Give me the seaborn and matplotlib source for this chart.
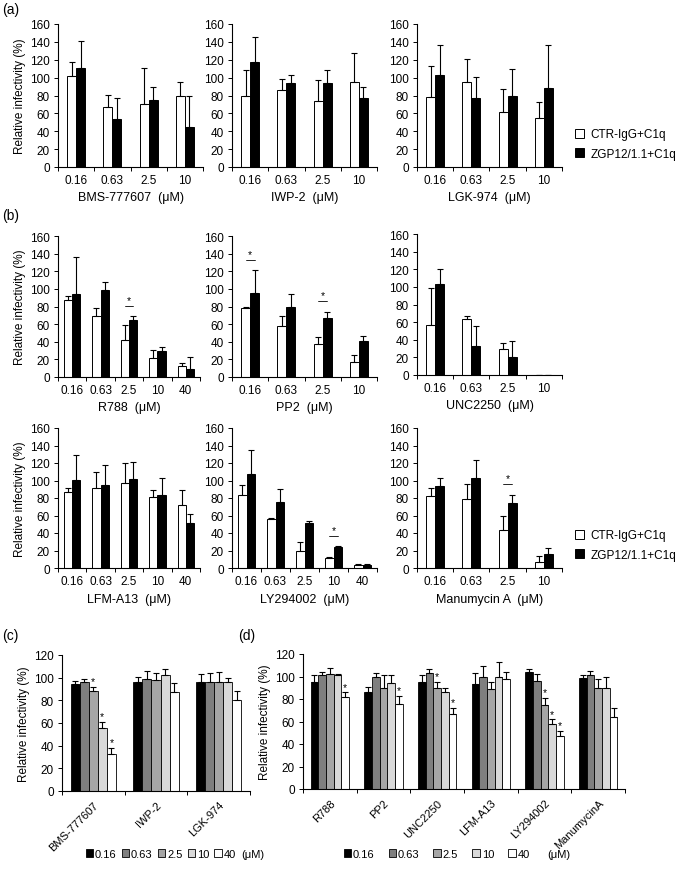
import numpy as np
import pandas as pd
import matplotlib.pyplot as plt
from matplotlib.patches import Patch
import seaborn as sns

sns.set_theme(style="ticks")
plt.rcParams['font.family'] = ['Liberation Sans', 'DejaVu Sans']
plt.rcParams['font.size'] = 8
plt.rcParams['axes.edgecolor'] = 'black'
plt.rcParams['axes.linewidth'] = 0.8
plt.rcParams['xtick.color'] = 'black'
plt.rcParams['ytick.color'] = 'black'
plt.rcParams['axes.labelcolor'] = 'black'
plt.rcParams['text.color'] = 'black'

doses4 = ["0.16", "0.63", "2.5", "10"]
doses5 = ["0.16", "0.63", "2.5", "10", "40"]
conds = ["CTR-IgG+C1q", "ZGP12/1.1+C1q"]

# (a) values: mean and upper SD for each condition
bms_ctr, bms_ctr_err = [102, 67, 70, 80], [16, 14, 41, 15]
bms_zgp, bms_zgp_err = [111, 54, 75, 45], [30, 23, 15, 34]
iwp_ctr, iwp_ctr_err = [80, 86, 74, 95], [28, 12, 23, 33]
iwp_zgp, iwp_zgp_err = [117, 94, 94, 77], [28, 9, 15, 12]
lgk_ctr, lgk_ctr_err = [78, 95, 61, 55], [35, 26, 26, 18]
lgk_zgp, lgk_zgp_err = [103, 77, 80, 88], [33, 24, 30, 49]

# (b)
r788_ctr, r788_ctr_err = [87, 69, 42, 21, 12], [5, 9, 17, 10, 4]
r788_zgp, r788_zgp_err = [94, 99, 65, 29, 9], [42, 9, 4, 5, 14]
pp2_ctr, pp2_ctr_err = [78, 58, 37, 17], [2, 11, 8, 8]
pp2_zgp, pp2_zgp_err = [95, 80, 67, 41], [26, 14, 7, 6]
unc_ctr, unc_ctr_err = [57, 63, 30, 0], [42, 4, 6, 0]
unc_zgp, unc_zgp_err = [103, 33, 20, 0], [17, 23, 19, 0]
lfm_ctr, lfm_ctr_err = [87, 91, 97, 81, 72], [5, 19, 23, 8, 17]
lfm_zgp, lfm_zgp_err = [101, 95, 102, 84, 52], [28, 23, 19, 19, 10]
ly_ctr, ly_ctr_err = [84, 56, 20, 11, 4], [11, 1, 10, 2, 0.5]
ly_zgp, ly_zgp_err = [107, 76, 51, 24, 4], [28, 14, 3, 1, 0.5]
man_ctr, man_ctr_err = [82, 79, 43, 7], [9, 17, 17, 7]
man_zgp, man_zgp_err = [94, 103, 74, 16], [9, 21, 10, 7]

# (c) cytotoxicity, Wnt inhibitors
c_drugs = ["BMS-777607", "IWP-2", "LGK-974"]
c_vals = [[94, 96, 88, 56, 33], [96, 99, 98, 102, 87], [96, 96, 96, 96, 80]]
c_errs = [[3, 3, 4, 5, 5], [5, 7, 6, 6, 8], [7, 8, 9, 4, 8]]
c_sig = [[2, 3, 4], [], []]

# (d) cytotoxicity, kinase inhibitors
d_drugs = ["R788", "PP2", "UNC2250", "LFM-A13", "LY294002", "ManumycinA"]
d_vals = [[95, 101, 102, 101, 82], [86, 100, 90, 94, 76], [95, 103, 90, 86, 67],
          [93, 100, 89, 100, 98], [104, 96, 75, 58, 47], [99, 101, 90, 90, 64]]
d_errs = [[6, 3, 6, 1, 4], [5, 3, 11, 7, 7], [6, 4, 5, 4, 5],
          [10, 9, 6, 13, 6], [3, 6, 6, 4, 5], [2, 4, 8, 10, 8]]
d_sig = [[4], [4], [2, 4], [], [2, 3, 4], []]

dose_colors = ["black", "#7f7f7f", "#a6a6a6", "#d9d9d9", "white"]

W, H = 678, 870
fig = plt.figure(figsize=(W / 100, H / 100), dpi=100)


def add_ax(x0, x1, ytop, ybot):
    return fig.add_axes([x0 / W, 1 - ybot / H, (x1 - x0) / W, (ybot - ytop) / H])


def style_axis(ax, labels, ymax, rot=False):
    n = len(labels)
    ax.set_xlim(-0.5, n - 0.5)
    ax.set_ylim(0, ymax)
    ax.set_yticks(np.arange(0, ymax + 1, 20))
    ax.set_xticks(np.arange(n))
    if rot:
        ax.set_xticklabels(labels, rotation=45, ha='right', rotation_mode='anchor')
    else:
        ax.set_xticklabels(labels)
    ax.set_xticks(np.arange(n + 1) - 0.5, minor=True)
    ax.tick_params(axis='x', which='major', length=0, pad=6 if rot else 5,
                   labelsize=8 if rot else 8.5)
    ax.tick_params(axis='x', which='minor', length=3, width=0.7)
    ax.tick_params(axis='y', length=3, width=0.7, pad=3, labelsize=8.5)
    ax.set_ylabel("")
    ax.set_xlabel("")
    sns.despine(ax=ax)


def draw_pair(ax, drug, doses, ctr, ctr_err, zgp, zgp_err, sig=(), ylab=False):
    df = pd.DataFrame({
        "dose": doses * 2,
        "cond": [conds[0]] * len(doses) + [conds[1]] * len(doses),
        "value": ctr + zgp,
    })
    sns.barplot(data=df, x="dose", y="value", hue="cond", order=doses, hue_order=conds,
                palette={conds[0]: "white", conds[1]: "black"}, edgecolor="black",
                linewidth=0.7, width=0.5 if len(doses) == 4 else 0.58, saturation=1,
                errorbar=None, legend=False, ax=ax)
    bars = list(ax.containers)
    centers = []
    for cont, err in zip(bars, [ctr_err, zgp_err]):
        xs = [p.get_x() + p.get_width() / 2 for p in cont.patches]
        ys = [p.get_height() for p in cont.patches]
        centers.append(xs)
        ax.errorbar(xs, ys, yerr=[np.zeros(len(err)), err], fmt='none', ecolor='black',
                    elinewidth=0.8, capsize=2.5, capthick=0.8)
    # significance bracket
    for i in sig:
        h = max(ctr[i] + ctr_err[i], zgp[i] + zgp_err[i]) + 12
        ax.plot([centers[0][i], centers[1][i]], [h, h], color='black', lw=0.6)
        ax.text((centers[0][i] + centers[1][i]) / 2, h + 1, "*", ha='center', va='bottom', fontsize=7.5)
    style_axis(ax, doses, 160)
    ax.set_xlabel(f"{drug}  (μM)", fontsize=9, labelpad=4)
    if ylab:
        ax.set_ylabel("Relative infectivity (%)", fontsize=8.5, labelpad=3)


def draw_dose(ax, drugs, vals, errs, sig):
    rows = []
    for d, v in zip(drugs, vals):
        for dose, val in zip(doses5, v):
            rows.append({"drug": d, "dose": dose, "value": val})
    df = pd.DataFrame(rows)
    sns.barplot(data=df, x="drug", y="value", hue="dose", order=drugs, hue_order=doses5,
                palette=dose_colors, edgecolor="black", linewidth=0.6, width=0.72,
                saturation=1, errorbar=None, legend=False, ax=ax)
    bars = list(ax.containers)
    for k, cont in enumerate(bars):
        xs = [p.get_x() + p.get_width() / 2 for p in cont.patches]
        ys = [p.get_height() for p in cont.patches]
        e = [errs[g][k] for g in range(len(drugs))]
        ax.errorbar(xs, ys, yerr=[np.zeros(len(e)), e], fmt='none', ecolor='black',
                    elinewidth=0.8, capsize=2, capthick=0.8)
        for g in range(len(drugs)):
            if k in sig[g]:
                ax.text(xs[g], ys[g] + e[g] + 0.5, "*", ha='center', va='bottom', fontsize=7.5)
    style_axis(ax, drugs, 120, rot=True)
    ax.set_ylabel("Relative infectivity (%)", fontsize=8.5, labelpad=3)


cols4 = [(58, 203), (232, 377), (417, 562)]

# (a)
ax = add_ax(*cols4[0], 25, 168)
draw_pair(ax, "BMS-777607", doses4, bms_ctr, bms_ctr_err, bms_zgp, bms_zgp_err, ylab=True)
ax = add_ax(*cols4[1], 25, 168)
draw_pair(ax, "IWP-2", doses4, iwp_ctr, iwp_ctr_err, iwp_zgp, iwp_zgp_err)
ax = add_ax(*cols4[2], 25, 168)
draw_pair(ax, "LGK-974", doses4, lgk_ctr, lgk_ctr_err, lgk_zgp, lgk_zgp_err)

# (b) top row
ax = add_ax(58, 200, 237, 378)
draw_pair(ax, "R788", doses5, r788_ctr, r788_ctr_err, r788_zgp, r788_zgp_err, sig=[2], ylab=True)
ax = add_ax(*cols4[1], 237, 378)
draw_pair(ax, "PP2", doses4, pp2_ctr, pp2_ctr_err, pp2_zgp, pp2_zgp_err, sig=[0, 2])
ax = add_ax(*cols4[2], 235, 376)
draw_pair(ax, "UNC2250", doses4, unc_ctr, unc_ctr_err, unc_zgp, unc_zgp_err)

# (b) bottom row
ax = add_ax(58, 200, 429, 569)
draw_pair(ax, "LFM-A13", doses5, lfm_ctr, lfm_ctr_err, lfm_zgp, lfm_zgp_err, ylab=True)
ax = add_ax(232, 377, 429, 569)
draw_pair(ax, "LY294002", doses5, ly_ctr, ly_ctr_err, ly_zgp, ly_zgp_err, sig=[3])
ax = add_ax(*cols4[2], 429, 569)
draw_pair(ax, "Manumycin A", doses4, man_ctr, man_ctr_err, man_zgp, man_zgp_err, sig=[2])

# (c) and (d)
ax = add_ax(62, 250, 656, 792)
draw_dose(ax, c_drugs, c_vals, c_errs, c_sig)
ax = add_ax(303, 625, 655, 790)
draw_dose(ax, d_drugs, d_vals, d_errs, d_sig)

# legends
pair_handles = [Patch(facecolor="white", edgecolor="black", lw=0.7),
                Patch(facecolor="black", edgecolor="black", lw=0.7)]
for yc in (145, 546):
    fig.legend(pair_handles, conds, loc='center left', bbox_to_anchor=(569 / W, 1 - yc / H),
               frameon=False, fontsize=8.5, handlelength=0.8, handleheight=0.8,
               handletextpad=0.5, labelspacing=0.6, borderpad=0)

dose_handles = [Patch(facecolor=c, edgecolor="black", lw=0.6) for c in dose_colors]
dose_legs = []
for x0, csp, gap in ((80, 0.45, 5), (338, 1.25, 18)):
    leg = fig.legend(dose_handles, doses5, loc='center left', bbox_to_anchor=(x0 / W, 1 - 855 / H),
                     ncol=5, frameon=False, fontsize=8, handlelength=0.7, handleheight=0.7,
                     handletextpad=0.15, columnspacing=csp, borderpad=0)
    dose_legs.append((leg, gap))

fig.canvas.draw()
renderer = fig.canvas.get_renderer()
for leg, gap in dose_legs:
    bb = leg.get_window_extent(renderer)
    fig.text((bb.x1 + gap) / W, 1 - 855 / H, "(μM)", fontsize=8, va='center')

# panel letters
for lab, x, y in (("(a)", 2, 10), ("(b)", 2, 216), ("(c)", 2, 636), ("(d)", 238, 636)):
    fig.text(x / W, 1 - y / H, lab, fontsize=10, va='center')

fig.savefig("out.png", dpi=100)
